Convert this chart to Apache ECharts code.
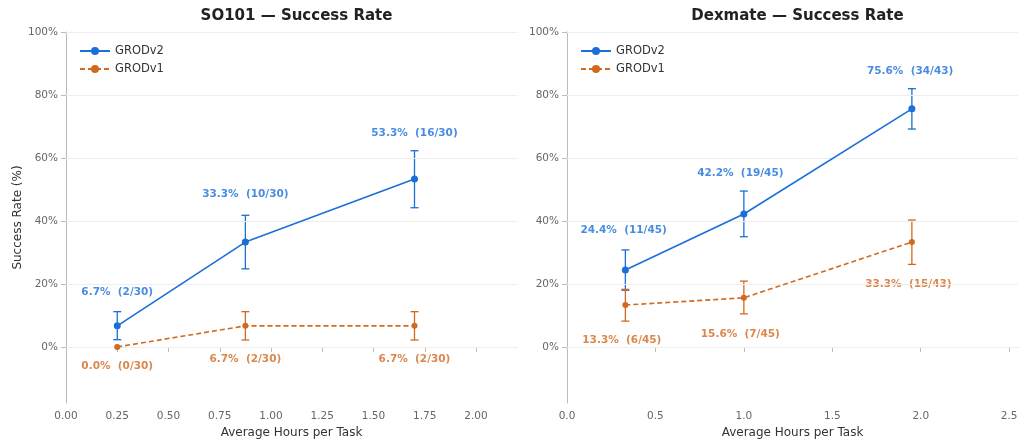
<!DOCTYPE html><html><head><meta charset="utf-8">
<script src="https://cdn.jsdelivr.net/npm/echarts@6/dist/echarts.min.js"></script>
<style>html,body{margin:0;background:#fff}#c{width:1024px;height:448px}</style></head><body><div id="c"></div>
<script>
const titles=['SO101 — Success Rate','Dexmate — Success Rate'];
const xs=[[0.25,0.875,1.70],[0.33,1.0,1.95]];
const v2=[[6.7,33.3,53.3],[24.4,42.2,75.6]];
const v2lo=[[2.3,24.8,44.2],[18.0,35.0,69.2]];
const v2hi=[[11.2,41.8,62.3],[30.8,49.5,82.0]];
const v1=[[0.0,6.7,6.7],[13.3,15.6,33.3]];
const v1lo=[[0.0,2.2,2.2],[8.2,10.5,26.2]];
const v1hi=[[0.0,11.2,11.2],[18.3,20.9,40.3]];
const v2txt=[['6.7%  (2/30)','33.3%  (10/30)','53.3%  (16/30)'],['24.4%  (11/45)','42.2%  (19/45)','75.6%  (34/43)']];
const v1txt=[['0.0%  (0/30)','6.7%  (2/30)','6.7%  (2/30)'],['13.3%  (6/45)','15.6%  (7/45)','33.3%  (15/43)']];
const v2lab=[[[0.25,17.5],[0.875,48.5],[1.70,68]],[[0.32,37],[0.98,55],[1.94,87.5]]];
const v1lab=[[[0.25,-6],[0.875,-4],[1.70,-4]],[[0.31,2],[0.98,4],[1.93,20]]];
const xTicks=[[0,0.25,0.5,0.75,1,1.25,1.5,1.75,2],[0,0.5,1,1.5,2,2.5]];
const xMax=[2.2,2.55];
const yTicks=[0,20,40,60,80,100];
const BLUE='#1a6fd8',ORANGE='#d2691e';
const grids=[{left:66,width:451,top:32,height:371},{left:567,width:451,top:32,height:371}];
const series=[],xAxis=[],yAxis=[],title=[],legend=[];
function errSeries(i,lo,hi,color){
  return {type:'custom',xAxisIndex:i,yAxisIndex:i,silent:true,z:3,
    data:xs[i].map((x,k)=>[x,lo[i][k],hi[i][k]]),
    renderItem:(p,api)=>{const a=api.coord([api.value(0),api.value(1)]),b=api.coord([api.value(0),api.value(2)]);
      if(Math.abs(a[1]-b[1])<0.5)return null;const w=4,st={stroke:color,lineWidth:1.3};
      return {type:'group',children:[{type:'line',shape:{x1:a[0],y1:a[1],x2:b[0],y2:b[1]},style:st},
        {type:'line',shape:{x1:a[0]-w,y1:a[1],x2:a[0]+w,y2:a[1]},style:st},
        {type:'line',shape:{x1:b[0]-w,y1:b[1],x2:b[0]+w,y2:b[1]},style:st}]};}};
}
function labSeries(i,pos,txt,color){
  return {type:'scatter',xAxisIndex:i,yAxisIndex:i,symbolSize:0,silent:true,
    data:pos[i].map((p,k)=>({value:p,label:{formatter:txt[i][k]}})),
    label:{show:true,position:'inside',color:color,fontWeight:'bold',fontSize:10.5,fontFamily:'DejaVu Sans'}};
}
for(let i=0;i<2;i++){
  title.push({text:titles[i],left:grids[i].left+grids[i].width/2,top:4,textAlign:'center',
    textStyle:{fontSize:15,fontWeight:'bold',color:'#222',fontFamily:'DejaVu Sans'}});
  legend.push({left:grids[i].left+8,top:40,orient:'vertical',itemGap:6,itemWidth:30,itemHeight:10,
    data:['GRODv2','GRODv1'].map(n=>({name:n+' '.repeat(i)})),
    textStyle:{fontSize:11.5,color:'#333',fontFamily:'DejaVu Sans'}});
  xAxis.push({gridIndex:i,type:'value',min:0,max:xMax[i],
    name:'Average Hours per Task',nameLocation:'middle',nameGap:24,nameTextStyle:{fontSize:12,color:'#333',fontFamily:'DejaVu Sans'},
    axisLine:{lineStyle:{color:'#bbb'}},axisTick:{show:true,customValues:xTicks[i],lineStyle:{color:'#bbb'}},splitLine:{show:false},
    axisLabel:{customValues:xTicks[i],color:'#666',fontSize:10.5,fontFamily:'DejaVu Sans',formatter:v=>i==0?v.toFixed(2):v.toFixed(1)}});
  yAxis.push({gridIndex:i,type:'value',min:-17.8,max:100,
    name:i==0?'Success Rate (%)':'',nameLocation:'middle',nameGap:42,nameTextStyle:{fontSize:12,color:'#333',fontFamily:'DejaVu Sans'},
    axisLine:{show:true,lineStyle:{color:'#bbb'}},axisTick:{show:true,customValues:yTicks,lineStyle:{color:'#bbb'}},splitLine:{show:false},
    axisLabel:{customValues:yTicks,color:'#666',fontSize:10.5,fontFamily:'DejaVu Sans',formatter:v=>v+'%'}});
  series.push({name:'GRODv2'+' '.repeat(i),type:'line',xAxisIndex:i,yAxisIndex:i,z:5,
    data:xs[i].map((x,k)=>[x,v2[i][k]]),symbol:'circle',symbolSize:7,color:BLUE,lineStyle:{width:1.6},
    markLine:{silent:true,symbol:'none',label:{show:false},lineStyle:{color:'#eee',type:'solid',width:1},data:yTicks.map(y=>({yAxis:y}))}});
  series.push({name:'GRODv1'+' '.repeat(i),type:'line',xAxisIndex:i,yAxisIndex:i,z:5,
    data:xs[i].map((x,k)=>[x,v1[i][k]]),symbol:'circle',symbolSize:6,color:ORANGE,lineStyle:{width:1.6,type:[5,3]}});
  series.push(errSeries(i,v2lo,v2hi,BLUE),errSeries(i,v1lo,v1hi,ORANGE));
  series.push(labSeries(i,v2lab,v2txt,BLUE),labSeries(i,v1lab,v1txt,ORANGE));
}
const ch=echarts.init(document.getElementById('c'));
ch.setOption({animation:false,title,legend,grid:grids,xAxis,yAxis,series});
</script></body></html>
